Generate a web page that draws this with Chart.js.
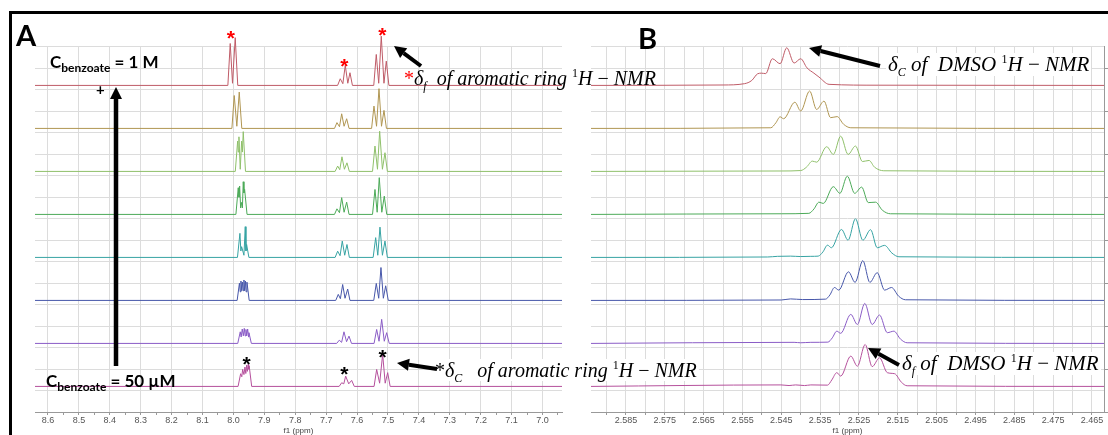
<!DOCTYPE html>
<html>
<head>
<meta charset="utf-8">
<script src="https://cdn.jsdelivr.net/npm/chart.js@4.4.1/dist/chart.umd.min.js"></script>
<style>
  body { margin: 0; width: 1108px; height: 435px; position: relative; overflow: hidden; background: #fff; }
  canvas { position: absolute; top: 0; }
  #frame { position: absolute; left: 9px; top: 11px; width: 1120px; height: 440px; border-top: 3px solid #000; border-left: 3px solid #000; }
  .panel { position: absolute; font: 700 29px Lato, sans-serif; line-height: 1; }
  .conc { position: absolute; font: 700 17px Lato, sans-serif; line-height: 1; white-space: nowrap; }
  .conc .sb { font-size: 12px; position: relative; top: 4px; }
  .note { position: absolute; font: italic 20px "Liberation Serif", serif; line-height: 1; white-space: nowrap; }
  .note .sub { font-size: 12px; position: relative; top: 5px; }
  .note .sup { font-size: 12px; font-style: normal; position: relative; top: -8px; }
  .note .up { font-style: normal; }
  .bg { background: #fff; padding: 1px 2px; }
</style>
</head>
<body>
<div id="frame"></div>
<canvas id="chartA" width="575" height="435" style="left:0"></canvas>
<canvas id="chartB" width="533" height="435" style="left:575px"></canvas>

<script>
// x-axis tick labels (ppm)
const ticksA = ['8.6','8.5','8.4','8.3','8.2','8.1','8.0','7.9','7.8','7.7','7.6','7.5','7.4','7.3','7.2','7.1','7.0']
const ticksB = ['2.585','2.575','2.565','2.555','2.545','2.535','2.525','2.515','2.505','2.495','2.485','2.475','2.465']

// panel A, aromatic region: [ppm, intensity], 1 M (top) down to 50 uM (bottom)
const arom1 = [[8.642,0],[8.018,0],[8.0104,1.95],[8.003,0.1],[7.9942,2.22],[7.986,0],
  [7.663,0],[7.6544,0.31],[7.646,0.08],[7.6382,0.93],[7.630,0.1],[7.623,0.59],[7.615,0],
  [7.546,0],[7.5379,1.44],[7.530,0.1],[7.5217,2.29],[7.513,0.1],[7.5055,1.13],[7.497,0],[6.937,0]]
const arom2 = [[8.642,0],[8.005,0],[7.9974,1.53],[7.989,0.1],[7.9812,1.69],[7.973,0],
  [7.673,0],[7.6651,0.27],[7.657,0.08],[7.6498,0.68],[7.642,0.1],[7.6337,0.45],[7.626,0],
  [7.553,0],[7.5453,1.04],[7.537,0.1],[7.5291,1.85],[7.521,0.1],[7.5129,0.84],[7.505,0],[6.937,0]]
const arom3 = [[8.642,0],[7.994,0],[7.9864,1.41],[7.9843,0.9],[7.9822,1.61],[7.978,0.1],[7.9735,1.41],[7.971,0.9],[7.9683,1.85],[7.961,0],
  [7.671,0],[7.6628,0.25],[7.656,0.08],[7.6489,0.68],[7.641,0.1],[7.6327,0.40],[7.625,0],
  [7.550,0],[7.5421,1.18],[7.534,0.1],[7.5269,1.87],[7.518,0.1],[7.5097,0.87],[7.502,0],[6.937,0]]
const arom4 = [[8.642,0],[7.992,0],[7.9845,1.24],[7.982,0.8],[7.9799,1.32],[7.9767,0.3],[7.9735,0.56],[7.971,0.3],[7.9683,1.52],[7.966,1.0],[7.9638,1.16],[7.956,0],
  [7.673,0],[7.6651,0.26],[7.657,0.08],[7.6498,0.78],[7.642,0.1],[7.6337,0.57],[7.626,0],
  [7.550,0],[7.5421,1.16],[7.535,0.1],[7.5282,1.71],[7.520,0.1],[7.5120,0.85],[7.504,0],[6.937,0]]
const arom5 = [[8.642,0],[7.987,0],[7.979,1.12],[7.976,0.3],[7.9735,0.5],[7.966,0.1],[7.9618,1.43],[7.9595,0.3],[7.9573,0.6],[7.950,0],
  [7.671,0],[7.6628,0.29],[7.655,0.08],[7.6479,0.76],[7.640,0.1],[7.6327,0.60],[7.625,0],
  [7.548,0],[7.5398,0.92],[7.533,0.1],[7.5259,1.41],[7.518,0.1],[7.5097,0.76],[7.502,0],[6.937,0]]
const arom6 = [[8.642,0],[7.988,0],[7.9806,0.8],[7.978,0.4],[7.9757,0.9],[7.973,0.45],[7.9709,0.85],[7.968,0.45],[7.966,0.95],[7.964,0.45],[7.9612,0.9],[7.959,0.4],[7.9563,0.85],[7.949,0],
  [7.669,0],[7.6608,0.28],[7.654,0.08],[7.6466,0.74],[7.639,0.1],[7.6304,0.53],[7.623,0],
  [7.546,0],[7.5379,0.79],[7.530,0.1],[7.5227,1.53],[7.515,0.1],[7.5074,0.68],[7.499,0],[6.937,0]]
const arom7 = [[8.642,0],[7.986,0],[7.978,0.54],[7.975,0.3],[7.9715,0.67],[7.968,0.35],[7.965,0.70],[7.962,0.35],[7.9595,0.65],[7.957,0.35],[7.954,0.67],[7.951,0.3],[7.9498,0.5],[7.942,0],
  [7.666,0],[7.6576,0.15],[7.650,0.05],[7.6424,0.54],[7.634,0.08],[7.6262,0.34],[7.618,0],
  [7.545,0],[7.5366,0.65],[7.529,0.1],[7.5204,1.12],[7.512,0.1],[7.5042,0.5],[7.496,0],[6.937,0]]
const arom8 = [[8.642,0],[7.985,0],[7.9767,0.59],[7.973,0.45],[7.9702,0.79],[7.966,0.55],[7.9628,0.9],[7.960,0.6],[7.9573,0.99],[7.955,0.7],[7.9521,1.02],[7.9505,0.8],[7.9489,0.94],[7.941,0],
  [7.658,0],[7.6498,0.17],[7.643,0.12],[7.6369,0.48],[7.627,0.12],[7.6175,0.28],[7.609,0],
  [7.545,0],[7.5366,0.79],[7.527,0.15],[7.5172,1.49],[7.509,0.15],[7.5010,0.64],[7.493,0],[6.937,0]]

// asterisks over the peaks: [ppm, height above the trace baseline]
const starsFree = [[8.0081,2.42],[7.6414,1.13],[7.5184,2.56]]
const starsComplex = [[7.9573,1.26],[7.6414,0.79],[7.5171,1.61]]

// panel B, DMSO quintet: [ppm, intensity]
const dmso1 = [[2.594,0],[2.560,0.02],[2.5545,0.08],[2.5526,0.23],[2.5511,0.54],[2.5501,0.57],[2.5490,0.55],[2.5473,1.24],[2.5453,1.01],[2.5436,1.75],[2.5417,1.04],[2.5400,1.24],[2.5384,0.82],[2.5366,0.57],[2.5353,0.39],[2.5327,0.05],[2.520,0.01],[2.4619,0]]
const dmso2 = [[2.594,0],[2.5477,0.03],[2.5464,0.26],[2.5453,0.54],[2.5444,0.45],[2.5415,1.22],[2.5400,0.81],[2.5377,1.74],[2.5359,0.88],[2.5340,1.27],[2.5323,0.5],[2.5306,0.55],[2.5290,0.2],[2.5271,0.03],[2.4619,0]]
const dmso3 = [[2.594,0],[2.545,0.02],[2.5400,0.04],[2.5385,0.2],[2.5370,0.48],[2.5359,0.43],[2.5333,1.15],[2.5316,0.79],[2.5297,1.64],[2.5278,0.79],[2.5259,1.18],[2.5241,0.46],[2.5224,0.51],[2.5210,0.2],[2.5186,0.03],[2.4619,0]]
const dmso4 = [[2.594,0],[2.545,0.03],[2.5379,0.05],[2.5366,0.25],[2.5353,0.57],[2.5342,0.51],[2.5316,1.29],[2.5299,0.98],[2.5280,1.78],[2.5261,0.98],[2.5243,1.27],[2.5226,0.55],[2.5207,0.57],[2.5190,0.2],[2.5169,0.03],[2.4619,0]]
const dmso5 = [[2.594,0],[2.5485,0.02],[2.546,0.05],[2.5426,0.06],[2.540,0.04],[2.5374,0.05],[2.5355,0.06],[2.5343,0.25],[2.5331,0.57],[2.5321,0.45],[2.5295,1.30],[2.5278,0.80],[2.5259,1.80],[2.5240,0.80],[2.5220,1.29],[2.5203,0.45],[2.5184,0.56],[2.5165,0.2],[2.5147,0.03],[2.4619,0]]
const dmso6 = [[2.594,0],[2.545,0.02],[2.5426,0.07],[2.5395,0.04],[2.5336,0.06],[2.5325,0.25],[2.5313,0.60],[2.5302,0.48],[2.5277,1.33],[2.5260,0.84],[2.5240,1.85],[2.5222,0.84],[2.5203,1.29],[2.5184,0.48],[2.5166,0.60],[2.5148,0.2],[2.5130,0.03],[2.4619,0]]
const dmso7 = [[2.594,0],[2.5417,0.05],[2.540,0.03],[2.5374,0.05],[2.5330,0.06],[2.5319,0.25],[2.5307,0.57],[2.5297,0.47],[2.5271,1.35],[2.5254,0.88],[2.5235,1.86],[2.5216,0.88],[2.5197,1.32],[2.5177,0.50],[2.5160,0.57],[2.5143,0.2],[2.5126,0.03],[2.4619,0]]
const dmso8 = [[2.594,0],[2.5451,0.07],[2.543,0.04],[2.5413,0.07],[2.539,0.04],[2.5374,0.07],[2.5331,0.06],[2.5320,0.30],[2.5307,0.64],[2.5297,0.48],[2.5271,1.41],[2.5254,0.94],[2.5234,1.95],[2.5216,0.92],[2.5197,1.33],[2.5177,0.64],[2.5158,0.59],[2.5141,0.2],[2.5126,0.03],[2.4619,0]]

const lineColors = ['#bf5b67','#b09652','#8fc06a','#4caa58','#36a3a3','#4757aa','#8a5cc6','#b5509c']

// stacking: each spectrum sits 2 grid rows above the next one
const TOP_BASE = 15.19
const GAP = 2
const GRID = '#dcdcdc'

function stacked(traces, smooth) {
  return traces.map(function (t, k) {
    return {
      data: t.map(p => ({ x: p[0], y: TOP_BASE - GAP * k + p[1] })),
      borderColor: lineColors[k], borderWidth: 1, pointRadius: 0, clip: false,
      cubicInterpolationMode: smooth ? 'monotone' : 'default', tension: 0
    }
  })
}

// asterisks are written as text at the scale position of the peak they mark
const starPlugin = {
  id: 'stars',
  afterDatasetsDraw(chart, args, opts) {
    if (!opts.sets) return
    const ctx = chart.ctx, sx = chart.scales.x, sy = chart.scales.y
    ctx.save()
    ctx.font = 'bold 21px "Liberation Sans"'
    ctx.textAlign = 'center'
    ctx.textBaseline = 'alphabetic'
    opts.sets.forEach(function (s) {
      ctx.fillStyle = s.color
      s.list.forEach(p => ctx.fillText('*', sx.getPixelForValue(p[0]), sy.getPixelForValue(TOP_BASE - GAP * s.k + p[1]) + 12))
    })
    ctx.restore()
  }
}

function xAxis(min, max, labels, minorShift, minorGrid) {
  const major = labels.map(Number)
  const isMajor = v => major.some(m => Math.abs(m - v) < 1e-6)
  return {
    type: 'linear', reverse: true, min: min, max: max,
    afterBuildTicks: function (s) {
      const vals = major.concat(major.map(v => +(v + minorShift).toFixed(4)))
        .filter(v => v >= min && v <= max).sort((a, b) => a - b)
      s.ticks = vals.map(v => ({ value: v }))
    },
    ticks: {
      autoSkip: false, maxRotation: 0, padding: 1, color: '#555',
      font: { family: 'Liberation Sans', size: 9, lineHeight: 1 },
      callback: function (v) {
        const l = labels.find(l => Math.abs(Number(l) - v) < 1e-6)
        return l || ''
      }
    },
    grid: {
      color: c => (minorGrid || (c.tick && isMajor(c.tick.value))) ? GRID : 'rgba(0,0,0,0)',
      tickColor: '#999', tickLength: 3
    },
    border: { color: '#999' },
    title: { display: true, text: 'f1 (ppm)', color: '#444', padding: { top: 1, bottom: 0 },
      font: { family: 'Liberation Sans', size: 8, lineHeight: 1 } }
  }
}

function yAxis() {
  return {
    min: 0, max: 17,
    afterBuildTicks: s => { s.ticks = Array.from({ length: 18 }, (_, i) => ({ value: i })) },
    ticks: { display: false },
    grid: { color: GRID, drawTicks: false },
    border: { display: false }
  }
}

const common = {
  responsive: false, animation: false, events: []
}

new Chart(document.getElementById('chartA'), {
  type: 'line',
  data: { datasets: stacked([arom1, arom2, arom3, arom4, arom5, arom6, arom7, arom8], false) },
  plugins: [starPlugin],
  options: Object.assign({}, common, {
    plugins: {
      legend: { display: false }, tooltip: { enabled: false },
      stars: { sets: [{ list: starsFree, k: 0, color: '#ff0000' }, { list: starsComplex, k: 7, color: '#000000' }] }
    },
    layout: { padding: { left: 35, right: 13, top: 46.5, bottom: 0 } },
    scales: { x: xAxis(6.937, 8.642, ticksA, -0.05, false), y: yAxis() }
  })
})

const yr = yAxis()
yr.position = 'right'
yr.grid = { drawOnChartArea: false, drawTicks: true, tickLength: 4,
  tickColor: c => (c.tick && c.tick.value % 2 === 0) ? '#999' : 'rgba(0,0,0,0)' }
yr.border = { display: true, color: '#999' }

new Chart(document.getElementById('chartB'), {
  type: 'line',
  data: { datasets: stacked([dmso1, dmso2, dmso3, dmso4, dmso5, dmso6, dmso7, dmso8], true) },
  options: Object.assign({}, common, {
    plugins: { legend: { display: false }, tooltip: { enabled: false } },
    layout: { padding: { left: 16, right: 0, top: 46.5, bottom: 0 } },
    scales: { x: xAxis(2.4619, 2.594, ticksB, 0.005, true), y: yAxis(), yr: yr }
  })
})
</script>

<div class="panel" style="left:16px;top:20px">A</div>
<div class="panel" style="left:638px;top:23px">B</div>
<div class="conc" style="left:50px;top:53px">C<span class="sb">benzoate</span> = 1 M</div>
<div class="conc" style="left:46px;top:372px">C<span class="sb">benzoate</span> = 50 µM</div>
<div class="conc" style="left:96px;top:82px;font-size:15px">+</div>

<div class="note" style="left:404px;top:68px"><span style="color:#ff0000;font-style:normal">*</span>δ<span class="sub">f</span>&nbsp; of aromatic ring <span class="sup">1</span>H <span class="up">−</span> NMR</div>
<div class="note bg" style="left:433px;top:359px"><span style="font-style:normal">*</span>δ<span class="sub">C</span>&nbsp;&nbsp; of aromatic ring <span class="sup">1</span>H <span class="up">−</span> NMR</div>
<div class="note bg" style="left:886px;top:53px;font-size:21px">δ<span class="sub">C</span> of&nbsp; DMSO <span class="sup">1</span>H <span class="up">−</span> NMR</div>
<div class="note bg" style="left:900px;top:352px;font-size:21px">δ<span class="sub">f</span> of&nbsp; DMSO <span class="sup">1</span>H <span class="up">−</span> NMR</div>

<svg id="ann" width="1108" height="435" style="position:absolute;left:0;top:0"></svg>
<script>
// annotation arrows: tail -> tip
const svg = document.getElementById('ann')
function arrow(x1, y1, x2, y2, w) {
  const a = Math.atan2(y2 - y1, x2 - x1), L = 12, W = 6
  const bx = x2 - L * Math.cos(a), by = y2 - L * Math.sin(a)
  const ns = 'http://www.w3.org/2000/svg'
  const ln = document.createElementNS(ns, 'line')
  ln.setAttribute('x1', x1); ln.setAttribute('y1', y1); ln.setAttribute('x2', bx); ln.setAttribute('y2', by)
  ln.setAttribute('stroke', '#000'); ln.setAttribute('stroke-width', w || 4)
  svg.appendChild(ln)
  const hd = document.createElementNS(ns, 'polygon')
  const px = -Math.sin(a) * W, py = Math.cos(a) * W
  hd.setAttribute('points', x2 + ',' + y2 + ' ' + (bx + px) + ',' + (by + py) + ' ' + (bx - px) + ',' + (by - py))
  hd.setAttribute('fill', '#000')
  svg.appendChild(hd)
}
arrow(116, 366, 116, 87, 4.5)
arrow(421, 66, 394, 46)
arrow(437, 369, 397, 363)
arrow(880, 66, 809, 48)
arrow(899, 365, 868, 348)
</script>
</body>
</html>
